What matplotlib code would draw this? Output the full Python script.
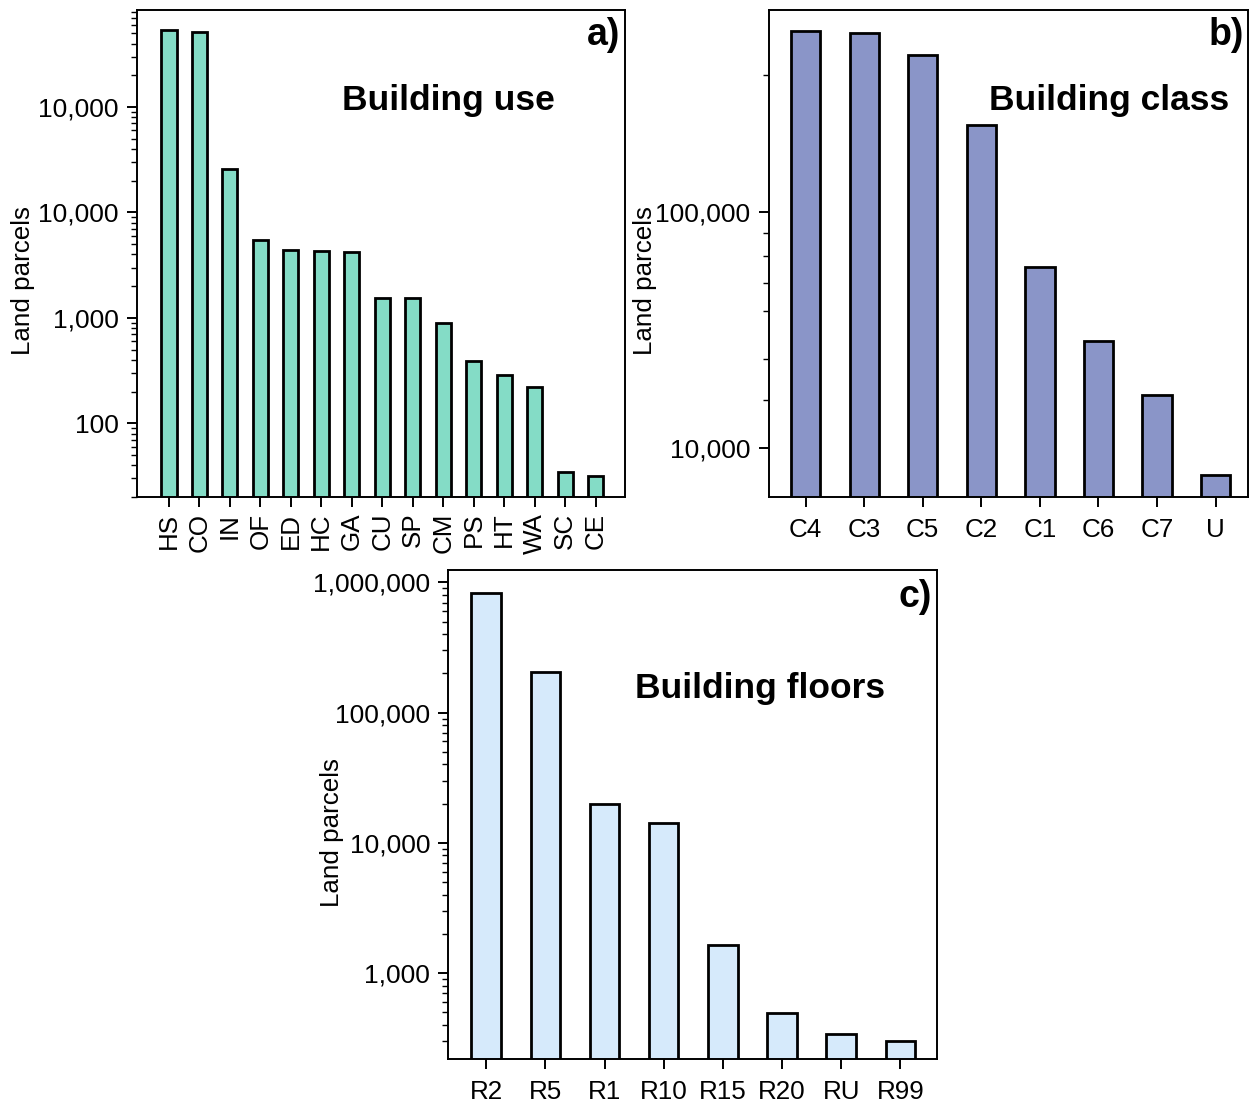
import numpy as np
import matplotlib.pyplot as plt
from matplotlib.ticker import FixedLocator, FixedFormatter, NullFormatter, LogLocator

plt.rcParams['font.family'] = ['Liberation Sans', 'DejaVu Sans']

# building use
use_codes = ['HS', 'CO', 'IN', 'OF', 'ED', 'HC', 'GA', 'CU', 'SP', 'CM', 'PS', 'HT', 'WA', 'SC', 'CE']
use_counts = [541000, 520000, 25700, 5520, 4400, 4290, 4230, 1560, 1537, 887, 389, 289, 223, 34.7, 31.5]
use_ticks = [100, 1000, 10000, 100000]
use_ticklabels = ['100', '1,000', '10,000', '10,000']

# building class
class_codes = ['C4', 'C3', 'C5', 'C2', 'C1', 'C6', 'C7', 'U']
class_counts = [587000, 572000, 461000, 235000, 58400, 28500, 16900, 7740]
class_ticks = [10000, 100000]
class_ticklabels = ['10,000', '100,000']
class_minor = [16000, 24000, 38000, 50000, 65000, 82000, 380000]

# building floors
floor_codes = ['R2', 'R5', 'R1', 'R10', 'R15', 'R20', 'RU', 'R99']
floor_counts = [832000, 205000, 20000, 14300, 1630, 494, 342, 302]
floor_ticks = [1000, 10000, 100000, 1000000]
floor_ticklabels = ['1,000', '10,000', '100,000', '1,000,000']


def panel(ax, codes, counts, color, ticks, ticklabels, ylim, xlim,
          title, tag, title_xy, tag_y, label_xy, rot=0, xpad=8, minor=None):
    x = np.arange(len(codes))
    ax.bar(x, counts, width=0.5, color=color, edgecolor='black', linewidth=2.0)
    ax.set_yscale('log')
    ax.set_ylim(*ylim)
    ax.set_xlim(*xlim)
    ax.yaxis.set_major_locator(FixedLocator(ticks))
    ax.yaxis.set_major_formatter(FixedFormatter(ticklabels))
    if minor is None:
        ax.yaxis.set_minor_locator(LogLocator(base=10, subs=np.arange(2, 10)))
    else:
        ax.yaxis.set_minor_locator(FixedLocator(minor))
    ax.yaxis.set_minor_formatter(NullFormatter())
    ax.set_xticks(x)
    ax.set_xticklabels(codes, rotation=rot, fontsize=18.7)
    ax.tick_params(axis='y', labelsize=19)
    ax.tick_params(which='major', direction='out', length=7, width=1.4, pad=6)
    ax.tick_params(which='minor', direction='out', length=4, width=1.0)
    ax.tick_params(axis='x', pad=xpad)
    for s in ax.spines.values():
        s.set_linewidth(1.4)
    ax.set_ylabel('Land parcels', fontsize=18.7)
    ax.yaxis.set_label_coords(*label_xy)
    ax.text(title_xy[0], title_xy[1], title, transform=ax.transAxes,
            ha='center', va='center', fontsize=25.5, fontweight='bold')
    ax.text(0.99, tag_y, tag, transform=ax.transAxes,
            ha='right', va='center', fontsize=27, fontweight='bold')


fig = plt.figure(figsize=(12.56, 11.03), dpi=100)

ax_a = fig.add_axes([0.109, 0.549, 0.389, 0.442])
panel(ax_a, use_codes, use_counts, '#84DCC6', use_ticks, use_ticklabels,
      (19.8, 834000), (-1.05, 14.98), 'Building use', 'a)',
      (0.638, 0.815), 0.949, (-0.209, 0.446), rot=90, xpad=4)

ax_b = fig.add_axes([0.612, 0.549, 0.382, 0.442])
panel(ax_b, class_codes, class_counts, '#8A95C8', class_ticks, class_ticklabels,
      (6200, 718000), (-0.63, 7.56), 'Building class', 'b)',
      (0.709, 0.815), 0.949, (-0.232, 0.446), minor=class_minor)

ax_c = fig.add_axes([0.357, 0.040, 0.389, 0.443])
panel(ax_c, floor_codes, floor_counts, '#D6EAFB', floor_ticks, floor_ticklabels,
      (219, 1240000), (-0.64, 7.62), 'Building floors', 'c)',
      (0.638, 0.759), 0.945, (-0.213, 0.464))

fig.savefig('out.png', dpi=100)
